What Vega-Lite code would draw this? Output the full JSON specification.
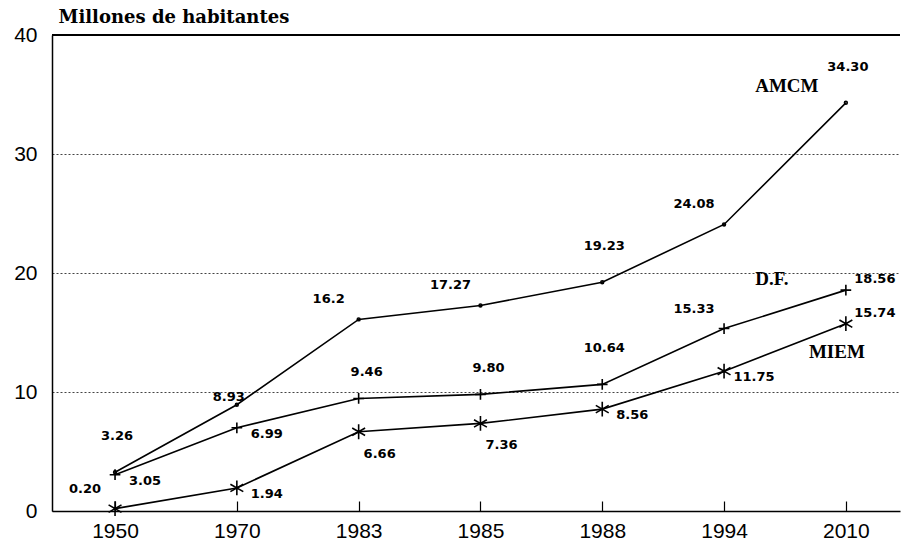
{
  "$schema": "https://vega.github.io/schema/vega-lite/v6.json",
  "width": 848,
  "height": 476,
  "autosize": {"type": "none"},
  "padding": {"left": 52, "top": 35, "right": 2, "bottom": 36},
  "background": "white",
  "config": {"view": {"stroke": null}},
  "data": {"values": [
    {"series": "AMCM", "year": "1950", "value": 3.26, "label": "3.26"},
    {"series": "AMCM", "year": "1970", "value": 8.93, "label": "8.93"},
    {"series": "AMCM", "year": "1983", "value": 16.1, "label": "16.2"},
    {"series": "AMCM", "year": "1985", "value": 17.27, "label": "17.27"},
    {"series": "AMCM", "year": "1988", "value": 19.23, "label": "19.23"},
    {"series": "AMCM", "year": "1994", "value": 24.08, "label": "24.08"},
    {"series": "AMCM", "year": "2010", "value": 34.3, "label": "34.30"},
    {"series": "D.F.", "year": "1950", "value": 3.05, "label": "3.05"},
    {"series": "D.F.", "year": "1970", "value": 6.99, "label": "6.99"},
    {"series": "D.F.", "year": "1983", "value": 9.46, "label": "9.46"},
    {"series": "D.F.", "year": "1985", "value": 9.8, "label": "9.80"},
    {"series": "D.F.", "year": "1988", "value": 10.64, "label": "10.64"},
    {"series": "D.F.", "year": "1994", "value": 15.33, "label": "15.33"},
    {"series": "D.F.", "year": "2010", "value": 18.56, "label": "18.56"},
    {"series": "MIEM", "year": "1950", "value": 0.2, "label": "0.20"},
    {"series": "MIEM", "year": "1970", "value": 1.94, "label": "1.94"},
    {"series": "MIEM", "year": "1983", "value": 6.66, "label": "6.66"},
    {"series": "MIEM", "year": "1985", "value": 7.36, "label": "7.36"},
    {"series": "MIEM", "year": "1988", "value": 8.56, "label": "8.56"},
    {"series": "MIEM", "year": "1994", "value": 11.75, "label": "11.75"},
    {"series": "MIEM", "year": "2010", "value": 15.74, "label": "15.74"}
  ]},
  "encoding": {
    "x": {"field": "year", "type": "ordinal", "scale": {"type": "point", "padding": 0.481, "align": 0.538},
      "axis": {"title": null, "labelAngle": 0, "labelFont": "Liberation Sans", "labelFontSize": 21, "labelColor": "black",
        "domainColor": "black", "domainWidth": 1.5, "tickColor": "black", "tickSize": -10, "tickWidth": 1.2, "labelPadding": 19, "grid": false}},
    "y": {"field": "value", "type": "quantitative", "scale": {"domain": [0, 40], "nice": false},
      "axis": {"values": [0, 10, 20, 30, 40], "title": "Millones de habitantes", "titleAngle": 0, "titleAlign": "left", "titleBaseline": "middle",
        "titleX": 6, "titleY": -18, "titleFont": "DejaVu Serif", "titleFontSize": 18, "titleFontWeight": "bold", "titleColor": "black",
        "labelFont": "Liberation Sans", "labelFontSize": 21, "labelColor": "black", "labelPadding": 15, "ticks": false,
        "domainColor": "black", "domainWidth": 1.5, "grid": true, "gridColor": "#444", "gridDash": [2, 2], "gridWidth": 1}}
  },
  "layer": [
    {"mark": {"type": "rule", "color": "black", "strokeWidth": 1.5}, "encoding": {"y": {"datum": 40}, "x": null}},
    {"mark": {"type": "line", "color": "black", "strokeWidth": 1.6}, "encoding": {"detail": {"field": "series"}}},
    {"mark": {"type": "point", "filled": false, "opacity": 1, "stroke": "black", "strokeWidth": 1.6},
      "encoding": {
        "shape": {"field": "series", "legend": null, "scale": {"domain": ["AMCM", "D.F.", "MIEM"], "range": ["circle", "M-1,0L1,0M0,-1L0,1", "M0,-1L0,1M-0.87,-0.5L0.87,0.5M-0.87,0.5L0.87,-0.5"]}},
        "size": {"field": "series", "legend": null, "scale": {"domain": ["AMCM", "D.F.", "MIEM"], "range": [8, 220, 200]}}
      }},
    {"transform": [{"filter": "indexof(['AMCM1950','AMCM1988','AMCM2010','D.F.1988'], datum.series + datum.year) >= 0"}],
      "mark": {"type": "text", "font": "DejaVu Sans", "fontWeight": "bold", "fontSize": 13, "dx": 2, "dy": -36, "color": "black"},
      "encoding": {"text": {"field": "label"}}},
    {"transform": [{"filter": "indexof(['D.F.1983','D.F.1985'], datum.series + datum.year) >= 0"}],
      "mark": {"type": "text", "font": "DejaVu Sans", "fontWeight": "bold", "fontSize": 13, "dx": 8, "dy": -26, "color": "black"},
      "encoding": {"text": {"field": "label"}}},
    {"transform": [{"filter": "indexof(['AMCM1983','AMCM1985','AMCM1994','D.F.1994','MIEM1950'], datum.series + datum.year) >= 0"}],
      "mark": {"type": "text", "font": "DejaVu Sans", "fontWeight": "bold", "fontSize": 13, "dx": -30, "dy": -20, "color": "black"},
      "encoding": {"text": {"field": "label"}}},
    {"transform": [{"filter": "indexof(['AMCM1970'], datum.series + datum.year) >= 0"}],
      "mark": {"type": "text", "font": "DejaVu Sans", "fontWeight": "bold", "fontSize": 13, "dx": -8, "dy": -8, "color": "black"},
      "encoding": {"text": {"field": "label"}}},
    {"transform": [{"filter": "indexof(['D.F.1950','D.F.1970','MIEM1970','MIEM1988','MIEM1994'], datum.series + datum.year) >= 0"}],
      "mark": {"type": "text", "font": "DejaVu Sans", "fontWeight": "bold", "fontSize": 13, "dx": 30, "dy": 6, "color": "black"},
      "encoding": {"text": {"field": "label"}}},
    {"transform": [{"filter": "indexof(['MIEM1983','MIEM1985'], datum.series + datum.year) >= 0"}],
      "mark": {"type": "text", "font": "DejaVu Sans", "fontWeight": "bold", "fontSize": 13, "dx": 21, "dy": 22, "color": "black"},
      "encoding": {"text": {"field": "label"}}},
    {"transform": [{"filter": "indexof(['D.F.2010','MIEM2010'], datum.series + datum.year) >= 0"}],
      "mark": {"type": "text", "font": "DejaVu Sans", "fontWeight": "bold", "fontSize": 13, "dx": 29, "dy": -11, "color": "black"},
      "encoding": {"text": {"field": "label"}}},
    {"transform": [{"filter": "datum.series == 'AMCM' && datum.year == '2010'"}],
      "mark": {"type": "text", "font": "Liberation Serif", "fontWeight": "bold", "fontSize": 19, "dx": -59, "dy": -17, "color": "black"},
      "encoding": {"text": {"field": "series"}}},
    {"transform": [{"filter": "datum.series == 'D.F.' && datum.year == '2010'"}],
      "mark": {"type": "text", "font": "Liberation Serif", "fontWeight": "bold", "fontSize": 19, "dx": -74, "dy": -11, "color": "black"},
      "encoding": {"text": {"field": "series"}}},
    {"transform": [{"filter": "datum.series == 'MIEM' && datum.year == '2010'"}],
      "mark": {"type": "text", "font": "Liberation Serif", "fontWeight": "bold", "fontSize": 19, "dx": -9, "dy": 28, "color": "black"},
      "encoding": {"text": {"field": "series"}}}
  ]
}
